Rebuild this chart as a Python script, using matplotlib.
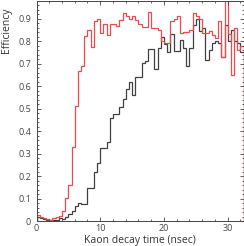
import numpy as np
import matplotlib
matplotlib.use("Agg")
import matplotlib.pyplot as plt
from matplotlib.ticker import MultipleLocator, FuncFormatter

# Bin edges (0.5 nsec bins from 0 to 32.5 nsec)
bin_width = 0.5
n_bins = 65
bin_edges = np.arange(n_bins + 1) * bin_width

# Efficiency per bin
eff_black = [0.016, 0.012, 0.008, 0.005, 0.003, 0.004, 0.006, 0.012, 0.008, 0.020,
             0.030, 0.045, 0.065, 0.080, 0.075, 0.075, 0.146, 0.146, 0.220, 0.260,
             0.324, 0.324, 0.350, 0.460, 0.476, 0.476, 0.509, 0.543, 0.587, 0.617,
             0.560, 0.642, 0.642, 0.703, 0.710, 0.765, 0.765, 0.676, 0.770, 0.820,
             0.787, 0.750, 0.830, 0.757, 0.757, 0.807, 0.768, 0.689, 0.770, 0.870,
             0.900, 0.845, 0.860, 0.716, 0.760, 0.790, 0.800, 0.790, 0.727, 0.870,
             0.800, 0.850, 0.800, 0.790, 0.750]

eff_red = [0.025, 0.020, 0.015, 0.008, 0.004, 0.012, 0.020, 0.022, 0.045, 0.104,
           0.159, 0.330, 0.510, 0.669, 0.691, 0.822, 0.849, 0.775, 0.890, 0.896,
           0.838, 0.877, 0.829, 0.874, 0.877, 0.868, 0.893, 0.923, 0.912, 0.896,
           0.912, 0.893, 0.876, 0.864, 0.864, 0.930, 0.856, 0.856, 0.850, 0.800,
           0.790, 0.790, 0.890, 0.900, 0.913, 0.837, 0.840, 0.840, 0.850, 0.924,
           0.913, 0.900, 0.836, 0.836, 0.845, 0.826, 0.815, 0.890, 0.727, 0.990,
           0.830, 0.649, 0.860, 0.760, 0.780]

plt.rcParams['font.family'] = ['Open Sans', 'DejaVu Sans']

fig = plt.figure(figsize=(2.44, 2.46), dpi=100)
ax = fig.add_axes([0.1496, 0.1016, 0.849, 0.896])

ax.stairs(eff_black, bin_edges, color='#404040', lw=0.9)
ax.stairs(eff_red, bin_edges, color='#ea4a50', lw=0.9)

ax.set_xlim(0, 32.5)
ax.set_ylim(0, 0.98)

ax.xaxis.set_major_locator(MultipleLocator(10))
ax.xaxis.set_minor_locator(MultipleLocator(2))
ax.yaxis.set_major_locator(MultipleLocator(0.1))
ax.yaxis.set_minor_locator(MultipleLocator(0.02))
ax.yaxis.set_major_formatter(FuncFormatter(lambda v, p: '{:g}'.format(round(v, 2))))

ax.tick_params(which='both', direction='in', top=True, right=True,
               colors='#444444', labelsize=6.5, width=0.6)
ax.tick_params(axis='x', pad=2.5)
ax.tick_params(axis='y', pad=4)
ax.tick_params(which='major', length=3)
ax.tick_params(which='minor', length=1.5)
for s in ax.spines.values():
    s.set_color('#444444')
    s.set_linewidth(0.7)

ax.set_xlabel('Kaon decay time (nsec)', fontsize=7.5, color='#333333')
ax.set_ylabel('Efficiency', fontsize=7.5, color='#333333')
ax.xaxis.set_label_coords(0.5, -0.062)
ax.yaxis.set_label_coords(-0.12, 0.865)

fig.savefig('out.png', dpi=100)
